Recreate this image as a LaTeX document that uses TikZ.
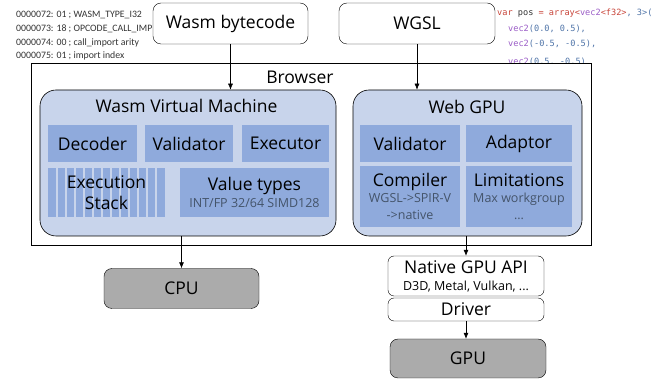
\documentclass[tikz,border=0pt]{standalone}
\usepackage{fontspec}
\setmainfont{Open Sans}
\newfontfamily\codesans{Carlito}
\newfontfamily\codemono{DejaVu Sans Mono}
\usetikzlibrary{arrows.meta}
\definecolor{outerblue}{HTML}{C8D4EB}
\definecolor{innerblue}{HTML}{8FAADC}
\definecolor{hwgray}{HTML}{ABABAB}
\definecolor{subtext}{HTML}{44546A}
\definecolor{kwred}{HTML}{C8453A}
\definecolor{fnpurple}{HTML}{9A5CC6}
\definecolor{numblue}{HTML}{4F74A8}
\definecolor{codegray}{HTML}{333333}
\newcommand{\bigfont}{\fontsize{17.5}{21}\selectfont}
\newcommand{\subfont}{\fontsize{12.5}{15}\selectfont\color{subtext}}

\begin{document}
\begin{tikzpicture}[x=1pt,y=-1pt,
      code/.style={anchor=base west,inner sep=0,font=\codesans\fontsize{9.8}{12}\selectfont,text=codegray},
      wgslcode/.style={anchor=base west,inner sep=0,font=\codemono\fontsize{8.6}{10}\selectfont,text=numblue},
      source/.style={draw,fill=white,rounded corners=8,minimum height=41,font=\bigfont},
      frame/.style={draw,fill=white,line width=0.6pt},
      engine/.style={draw,fill=outerblue,rounded corners=16,line width=0.6pt},
      part/.style={fill=innerblue,inner sep=0,font=\bigfont,align=center},
      stripes/.style={path picture={
          \foreach \i in {0,...,11}
            \draw[outerblue,line width=1.3pt]
              ([xshift=\i*9pt+9pt]path picture bounding box.north west) --
              ([xshift=\i*9pt+9pt]path picture bounding box.south west);}},
      api/.style={draw,fill=white,rounded corners=6,inner sep=0,align=center,font=\bigfont,minimum width=156},
      chip/.style={draw,fill=hwgray,rounded corners=8,minimum width=155,minimum height=40,font=\bigfont},
      flow/.style={-{Latex[length=6pt,width=5pt]},line width=0.6pt}
      ]
      \useasboundingbox (0,0) rectangle (662,379);

      % code snippets, partly hidden by the boxes drawn later
      \node[code] (wasm1) at (16,18) {0000072: 01 ; WASM\_TYPE\_I32};
      \node[code] (wasm2) at (16,32) {0000073: 18 ; OPCODE\_CALL\_IMP};
      \node[code] (wasm3) at (16,46) {0000074: 00 ; call\_import arity};
      \node[code] (wasm4) at (16,59) {0000075: 01 ; import index};

      \node[wgslcode] (wgsl1) at (497,16) {\color{kwred}var \color{codegray}pos \color{kwred}= array<\color{fnpurple}vec2\color{kwred}<f32>\color{numblue}, 3>(};
      \node[wgslcode] (wgsl2) at (508,32) {\color{fnpurple}vec2\color{numblue}(0.0, 0.5),};
      \node[wgslcode] (wgsl3) at (508,47) {\color{fnpurple}vec2\color{numblue}(-0.5, -0.5),};
      \node[wgslcode] (wgsl4) at (508,64.5) {\color{fnpurple}vec2\color{numblue}(0.5, -0.5)};

      \node[frame,minimum width=560,minimum height=182] (browser) at (311,154) {};
      \node[font=\bigfont] (browsertitle) at (300,77) {Browser};

      \node[source,minimum width=155] (bytecode) at (230.5,23.5) {Wasm bytecode};
      \node[source,minimum width=156] (wgsl) at (417,23.5) {WGSL};

      % Wasm virtual machine
      \node[engine,minimum width=296,minimum height=146] (vm) at (188,163) {};
      \node[font=\bigfont] (vmtitle) at (186.5,106) {Wasm Virtual Machine};
      \node[part,minimum width=89,minimum height=37] (decoder) at (92.5,143.5) {Decoder};
      \node[part,minimum width=88,minimum height=37] (validator) at (189,143.5) {Validator};
      \node[part,minimum width=87,minimum height=37] (executor) at (285.5,143.5) {Executor};
      \node[part,stripes,minimum width=117,minimum height=49] (stack) at (106.5,192.5) {Execution\\[0pt]Stack};
      \node[part,minimum width=149,minimum height=49] (valuetypes) at (254.5,192.5)
        {Value types\\[-4pt]\subfont INT/FP 32/64 SIMD128};

      % Web GPU
      \node[engine,minimum width=229,minimum height=146] (webgpu) at (467.5,163) {};
      \node[font=\bigfont] (gputitle) at (467,107) {Web GPU};
      \node[part,minimum width=100,minimum height=37] (gpuvalidator) at (410,143.5) {Validator};
      \node[part,minimum width=106,minimum height=37] (adaptor) at (519,143.5) {Adaptor};
      \node[part,minimum width=100,minimum height=61] (compiler) at (410,196.5)
        {Compiler\\[-5pt]\subfont WGSL->SPIR-V\\[-4pt]\subfont ->native};
      \node[part,minimum width=106,minimum height=61] (limitations) at (519,196.5)
        {Limitations\\[-5pt]\subfont Max workgroup\\[-4pt]\subfont ...};

      % hardware side
      \node[chip] (cpu) at (181.5,288.5) {CPU};
      \node[api,minimum height=40] (native) at (466,276)
        {Native GPU API\\[-4pt]\subfont\color{black} D3D, Metal, Vulkan, ...};
      \node[api,minimum height=23] (driver) at (466,309.5) {Driver};
      \node[chip,minimum width=156,minimum height=39] (gpu) at (468,358.5) {GPU};

      \draw[flow] (bytecode.south) -- (bytecode.south |- vm.north);
      \draw[flow] (wgsl.south) -- (wgsl.south |- webgpu.north);
      \draw[flow] (cpu.north |- vm.south) -- (cpu.north);
      \draw[flow] (native.north |- webgpu.south) -- (native.north);
      \draw[flow] (driver.south) -- (driver.south |- gpu.north);
    \end{tikzpicture}
\end{document}
